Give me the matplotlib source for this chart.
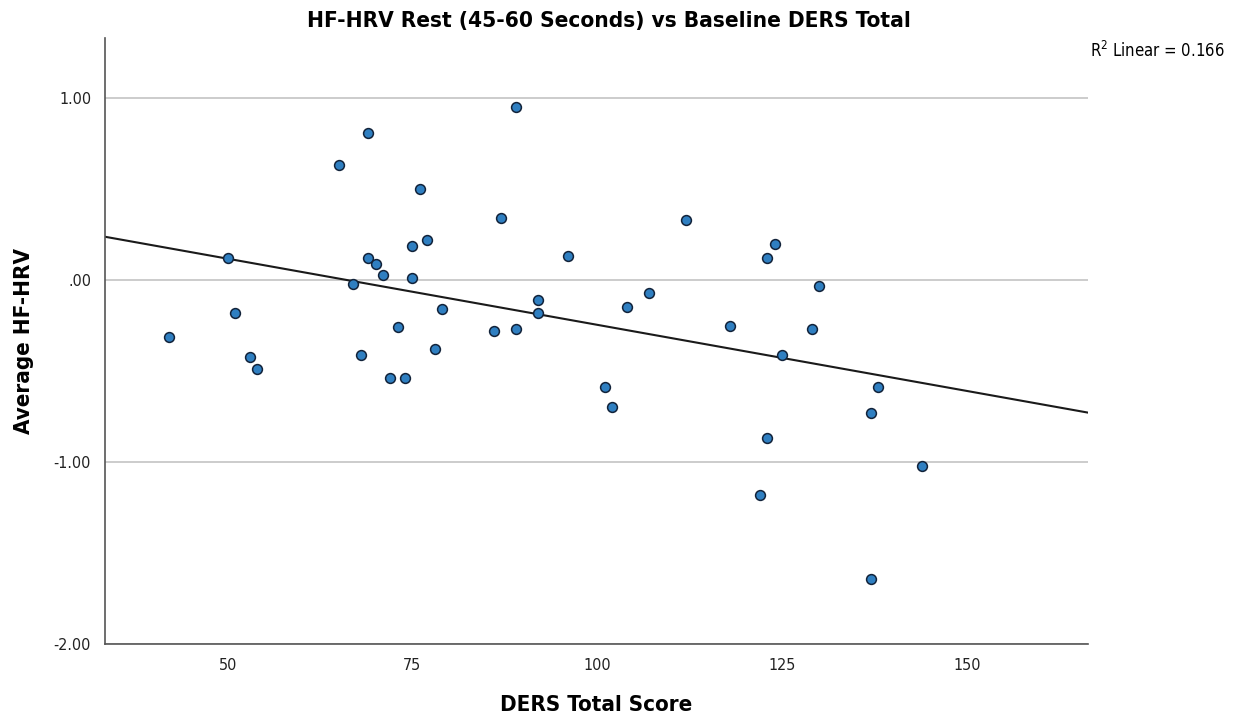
import numpy as np
import matplotlib
matplotlib.use("Agg")
import matplotlib.pyplot as plt
from matplotlib.ticker import FuncFormatter

# DERS total score vs average HF-HRV
ders_total = [42, 50, 51, 53, 54, 65, 67, 68, 69, 69, 70, 71, 72, 73, 74, 75, 75,
              76, 77, 78, 79, 86, 87, 89, 89, 92, 92, 96, 101, 102, 104, 107, 112,
              118, 123, 123, 122, 124, 125, 129, 130, 137, 137, 138, 144]
avg_hfhrv = [-0.31, 0.12, -0.18, -0.42, -0.49, 0.63, -0.02, -0.41, 0.81, 0.12, 0.09,
             0.03, -0.54, -0.26, -0.54, 0.19, 0.01, 0.50, 0.22, -0.38, -0.16, -0.28,
             0.34, 0.95, -0.27, -0.11, -0.18, 0.13, -0.59, -0.70, -0.15, -0.07, 0.33,
             -0.25, -0.87, 0.12, -1.18, 0.20, -0.41, -0.27, -0.03, -0.73, -1.64,
             -0.59, -1.02]
x_ticks = [50, 75, 100, 125, 150]
y_ticks = [1.0, 0.0, -1.0, -2.0]
r2_label = "0.166"

plt.rcParams['font.family'] = ['DejaVu Sans']
plt.rcParams['font.stretch'] = 'condensed'

fig = plt.figure(figsize=(12.44, 7.19), dpi=100)
ax = fig.add_axes([0.0844, 0.1043, 0.7902, 0.8427])

x = np.array(ders_total)
y = np.array(avg_hfhrv)

xmin, xmax = 33.4, 166.4
ax.set_xlim(xmin, xmax)
ax.set_ylim(-2.0, 1.33)

for yt in y_ticks:
    ax.axhline(yt, color='#c8c8c8', lw=1.3, zorder=0)

# linear fit line across the full axis
slope, intercept = np.polyfit(x, y, 1)
xs = np.array([xmin, xmax])
ax.plot(xs, slope * xs + intercept, color='#1a1a1a', lw=1.5, zorder=2)

ax.scatter(x, y, s=50, facecolor='#2f7fc1', edgecolor='#12233a', linewidth=1.1, zorder=3)

ax.set_xticks(x_ticks)
ax.set_yticks(y_ticks)

def fmt(v, pos):
    s = "%.2f" % v
    if s.startswith("0"):
        s = s[1:]
    if s == "-.00":
        s = ".00"
    return s

ax.yaxis.set_major_formatter(FuncFormatter(fmt))
ax.tick_params(length=0, labelsize=11.5, colors='#222222', pad=10)

for side in ['top', 'right']:
    ax.spines[side].set_visible(False)
for side in ['left', 'bottom']:
    ax.spines[side].set_color('#555555')
    ax.spines[side].set_linewidth(1.2)

ax.set_title("HF-HRV Rest (45-60 Seconds) vs Baseline DERS Total",
             fontsize=16.2, fontweight='bold', pad=8, x=0.513)
ax.set_xlabel("DERS Total Score", fontsize=16, fontweight='bold', labelpad=16)
ax.set_ylabel("Average HF-HRV", fontsize=16, fontweight='bold', labelpad=14)

fig.text(0.876, 0.915, r"R$^2$ Linear = " + r2_label, fontsize=12, ha='left', va='bottom')

fig.savefig("out.png", dpi=100)
